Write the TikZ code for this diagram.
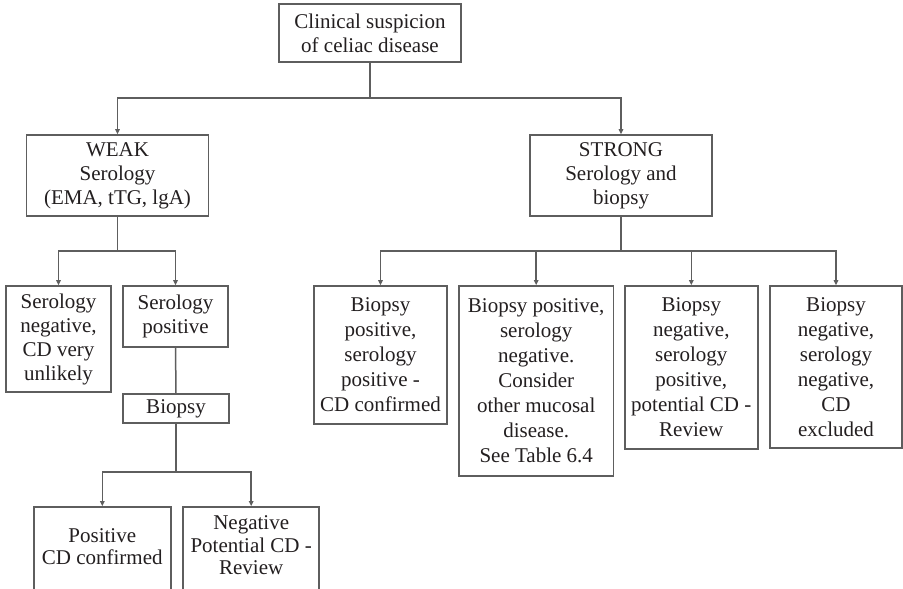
\documentclass[tikz,border=0pt]{standalone}
\usepackage{fontspec}
\setmainfont{LiberationSerif-Regular.ttf}
\usetikzlibrary{arrows.meta}
\definecolor{edgegray}{HTML}{5E5E5E}
\definecolor{inkblack}{HTML}{231F20}
\tikzset{
  flowbox/.style={draw=edgegray, line width=1.7pt, fill=white, rectangle,
    inner sep=0pt, align=center, text=inkblack,
    font=\fontsize{21}{24}\selectfont},
  link/.style={draw=edgegray, line width=1.5pt},
  arrowlink/.style={link, -{Triangle[length=5pt,width=4.5pt]}}
}
\begin{document}
\begin{tikzpicture}[x=1pt,y=-1pt]
\useasboundingbox[fill=white] (0,0) rectangle (903,589);
\begin{scope}
\clip (0,0) rectangle (903,589);

% top level
\node[flowbox, minimum width=182pt, minimum height=58pt] (top) at (370,33)
  {Clinical suspicion\\of celiac disease};

% second level
\node[flowbox, minimum width=182pt, minimum height=81pt] (weak) at (117.5,175.5)
  {WEAK\\Serology\\(EMA, tTG, lgA)};
\node[flowbox, minimum width=182pt, minimum height=81pt] (strong) at (621,175.5)
  {STRONG\\Serology and\\biopsy};

% weak branch
\node[flowbox, minimum width=105pt, minimum height=106pt] (sneg) at (58.5,339)
  {Serology\\negative,\\CD very\\unlikely};
\node[flowbox, minimum width=105pt, minimum height=61pt] (spos) at (175.5,316.5)
  {Serology\\positive};
\node[flowbox, minimum width=106pt, minimum height=29pt] (biop) at (176,408.5)
  {Biopsy};
\node[flowbox, minimum width=137pt, minimum height=90pt] (pconf) at (102.3,552) {};
\node[text=inkblack, align=center, font=\fontsize{21}{22.5}\selectfont]
  (pconftext) at (102.3,546.5) {Positive\\CD confirmed};
\node[flowbox, minimum width=136pt, minimum height=90pt] (nconf) at (251.2,552) {};
\node[text=inkblack, align=center, font=\fontsize{21}{22.5}\selectfont]
  (nconftext) at (251.2,545.5) {Negative\\Potential CD -\\Review};

% strong branch
\node[flowbox, minimum width=133pt, minimum height=138pt,
      font=\fontsize{21}{25}\selectfont] (bpos) at (380.5,355)
  {Biopsy\\positive,\\serology\\positive -\\CD confirmed};
\node[flowbox, minimum width=154.5pt, minimum height=190pt,
      font=\fontsize{21}{25}\selectfont] (bposneg) at (536.2,381)
  {Biopsy positive,\\serology\\negative.\\Consider\\other mucosal\\disease.\\See Table 6.4};
\node[flowbox, minimum width=132.7pt, minimum height=163pt,
      font=\fontsize{21}{25}\selectfont] (bneg) at (691.3,367.5)
  {Biopsy\\negative,\\serology\\positive,\\potential CD -\\Review};
\node[flowbox, minimum width=132.6pt, minimum height=162pt,
      font=\fontsize{21}{25}\selectfont] (bexcl) at (836,367)
  {Biopsy\\negative,\\serology\\negative,\\CD\\excluded};

% junction points of the branching lines
\coordinate (j1) at (370,98);
\coordinate (j2) at (117.5,251);
\coordinate (j3) at (621,251);
\coordinate (j4) at (176,472);

% connectors
\draw[link] (top.south) -- (j1);
\draw[arrowlink] (j1) -| (weak.north);
\draw[arrowlink] (j1) -| (strong.north);

\draw[link] (weak.south) -- (j2);
\draw[arrowlink] (j2) -| (sneg.north);
\draw[arrowlink] (j2) -| (spos.north);

\draw[link] (spos.south) -- (biop.north);
\draw[link] (biop.south) -- (j4);
\draw[arrowlink] (j4) -| (pconf.north);
\draw[arrowlink] (j4) -| (nconf.north);

\draw[link] (strong.south) -- (j3);
\draw[arrowlink] (j3) -| (bpos.north);
\draw[arrowlink] (j3) -| (bposneg.north);
\draw[arrowlink] (j3) -| (bneg.north);
\draw[arrowlink] (j3) -| (bexcl.north);
\end{scope}
\end{tikzpicture}
\end{document}
